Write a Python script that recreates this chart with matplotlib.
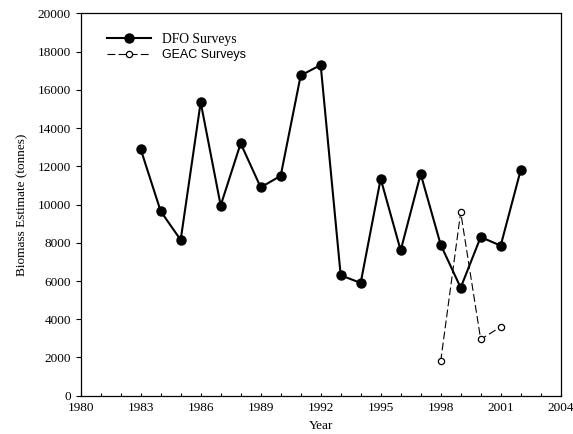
import matplotlib
matplotlib.use("Agg")
from matplotlib import pyplot as plt
from matplotlib.ticker import MultipleLocator

# DFO research vessel surveys
dfo_years = [1983, 1984, 1985, 1986, 1987, 1988, 1989, 1990, 1991, 1992,
             1993, 1994, 1995, 1996, 1997, 1998, 1999, 2000, 2001, 2002]
dfo_biomass = [12900, 9650, 8150, 15350, 9950, 13200, 10900, 11500, 16750, 17300,
               6300, 5900, 11350, 7600, 11600, 7900, 5650, 8300, 7850, 11800]

# GEAC industry surveys
geac_years = [1998, 1999, 2000, 2001]
geac_biomass = [1800, 9600, 2950, 3600]

plt.rcParams['font.family'] = ['Liberation Serif', 'DejaVu Serif']

fig = plt.figure(figsize=(5.73, 4.34), dpi=100)
ax = fig.add_axes([0.1408, 0.0882, 0.8377, 0.881])

ax.plot(dfo_years, dfo_biomass, color='black', lw=1.5, marker='o',
        ms=6.5, mfc='black', mec='black', label='DFO Surveys')
ax.plot(geac_years, geac_biomass, color='black', lw=0.8, dashes=(7, 3),
        marker='o', ms=4.5, mfc='white', mec='black', mew=0.9,
        label='GEAC Surveys')

ax.set_xlim(1980, 2004)
ax.set_ylim(0, 20000)
ax.xaxis.set_major_locator(MultipleLocator(3))
ax.xaxis.set_minor_locator(MultipleLocator(1))
ax.yaxis.set_major_locator(MultipleLocator(2000))
ax.tick_params(which='both', top=False, right=False, labelsize=9.5, width=0.8)
ax.tick_params(axis='x', which='both', direction='in', length=2.5, pad=4.5)
ax.tick_params(axis='y', which='major', direction='out', length=3.5, pad=3.5)
for s in ax.spines.values():
    s.set_linewidth(0.9)

ax.set_xlabel('Year', fontsize=9.5, labelpad=4)
ax.set_ylabel('Biomass Estimate (tonnes)', fontsize=9.5, labelpad=7)

leg = ax.legend(loc='upper left', bbox_to_anchor=(0.055, 0.948), frameon=False,
                fontsize=9.8, handlelength=3.2, handletextpad=0.8,
                labelspacing=0.2, borderpad=0, borderaxespad=0)
leg.get_texts()[1].set_fontfamily(['Liberation Sans', 'DejaVu Sans'])
leg.get_texts()[1].set_fontsize(9)

fig.savefig('out.png', dpi=100)
